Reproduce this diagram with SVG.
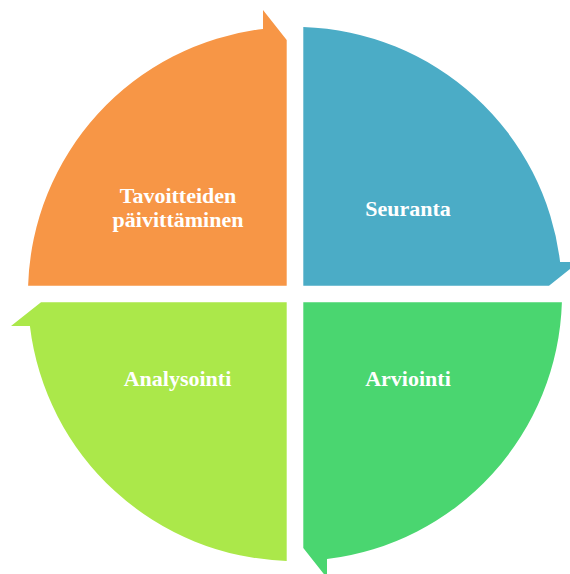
<svg xmlns="http://www.w3.org/2000/svg" width="570" height="574" viewBox="0 0 570 574">
<style>
.lbl{font-family:"Liberation Serif","DejaVu Serif",serif;font-weight:bold;font-size:22px;fill:#ffffff;text-anchor:middle}
</style>
<defs>
<path id="seg" d="M286.7,285.7 L28.1,285.7 A267,267 0 0 1 263,28.9 L263,10 L286.7,40 Z"/>
</defs>
<rect width="570" height="574" fill="#ffffff"/>
<g id="connectors"></g>
<g id="node-tavoitteiden">
<use href="#seg" fill="#F79646"/>
<text class="lbl" x="178" y="203">Tavoitteiden</text>
<text class="lbl" x="178" y="227">päivittäminen</text>
</g>
<g id="node-seuranta">
<use href="#seg" fill="#4BACC6" transform="rotate(90 295 294)"/>
<text class="lbl" x="408" y="216">Seuranta</text>
</g>
<g id="node-arviointi">
<use href="#seg" fill="#4AD670" transform="rotate(180 295 294)"/>
<text class="lbl" x="408" y="386">Arviointi</text>
</g>
<g id="node-analysointi">
<use href="#seg" fill="#ABE84A" transform="rotate(270 295 294)"/>
<text class="lbl" x="177.5" y="386">Analysointi</text>
</g>
</svg>
